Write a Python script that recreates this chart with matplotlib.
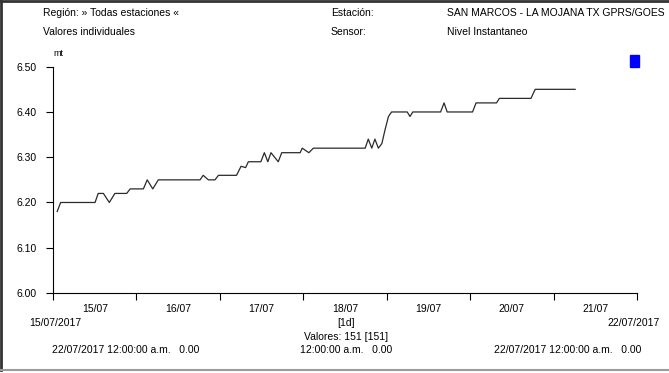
import datetime as dt
import matplotlib
matplotlib.use('Agg')
import matplotlib.pyplot as plt
import matplotlib.dates as mdates
from matplotlib.lines import Line2D
from matplotlib.patches import Rectangle

plt.rcParams['font.family'] = ['Liberation Sans', 'DejaVu Sans']

# water level readings (hours after 15/07/2017 00:00, metres)
hours = [1.2, 2.2, 12.1, 13.0, 14.5, 16.2, 17.8, 21.2, 22.2, 26.0, 27.1, 28.7, 30.3,
         42.3, 43.2, 44.7, 46.6, 47.6, 52.8, 54.1, 55.4, 56.2, 59.8, 60.8, 61.8,
         62.7, 64.8, 65.8, 71.1, 71.7, 73.6, 74.9, 89.8, 90.7, 91.7, 92.6, 93.6,
         94.6, 95.5, 96.5, 97.4, 101.9, 102.7, 103.5, 111.5, 112.5, 113.4, 120.7,
         121.7, 127.6, 128.4, 137.5, 138.7, 150.2]
levels = [6.18, 6.20, 6.20, 6.22, 6.22, 6.20, 6.22, 6.22, 6.23, 6.23, 6.25, 6.23, 6.25,
          6.25, 6.26, 6.25, 6.25, 6.26, 6.26, 6.28, 6.277, 6.29, 6.29, 6.31, 6.29,
          6.31, 6.29, 6.31, 6.31, 6.32, 6.31, 6.32, 6.32, 6.34, 6.32, 6.34, 6.32,
          6.33, 6.36, 6.39, 6.40, 6.40, 6.39, 6.40, 6.40, 6.42, 6.40, 6.40,
          6.42, 6.42, 6.43, 6.43, 6.45, 6.45]
yticks = [6.00, 6.10, 6.20, 6.30, 6.40, 6.50]

start = dt.datetime(2017, 7, 15)
end = dt.datetime(2017, 7, 22)
times = [start + dt.timedelta(hours=h) for h in hours]

W, H = 669, 373
def fx(x): return x / W
def fy(y): return 1 - y / H

fig = plt.figure(figsize=(W / 100, H / 100), dpi=100)
ax = fig.add_axes([fx(53), fy(293), (637 - 53) / W, (293 - 66.7) / H])
ax.plot(times, levels, color='#2a2a2a', lw=0.9)

ax.set_xlim(start, end)
ax.set_ylim(6.0, 6.5)
ax.set_yticks(yticks)
ax.set_yticklabels([f'{v:.2f}' for v in yticks])
ax.xaxis.set_major_locator(mdates.DayLocator())
ax.xaxis.set_major_formatter(plt.NullFormatter())
ax.xaxis.set_minor_locator(mdates.HourLocator(byhour=[12]))
ax.xaxis.set_minor_formatter(mdates.DateFormatter('%d/%m'))
ax.tick_params(axis='x', which='major', length=5, width=0.8, direction='out')
ax.tick_params(axis='x', which='minor', length=0, pad=8, labelsize=7.5)
ax.tick_params(axis='y', length=5, width=0.8, pad=7, labelsize=7.5)
for s in ['top', 'right']:
    ax.spines[s].set_visible(False)
for s in ['left', 'bottom']:
    ax.spines[s].set_linewidth(0.8)

fs = 7.5
fig.text(fx(43), fy(13), 'Región: » Todas estaciones «', fontsize=fs, va='center')
fig.text(fx(43), fy(32), 'Valores individuales', fontsize=fs, va='center')
fig.text(fx(331), fy(13), 'Estación:', fontsize=fs, va='center')
fig.text(fx(331), fy(32), 'Sensor:', fontsize=fs, va='center')
fig.text(fx(447), fy(13), 'SAN MARCOS - LA MOJANA TX GPRS/GOES', fontsize=fs, va='center')
fig.text(fx(447), fy(32), 'Nivel Instantaneo', fontsize=fs, va='center')
fig.text(fx(53), fy(53), 'mt', fontsize=6.5, va='center')
fig.add_artist(Rectangle((fx(630), fy(67)), 9 / W, 12 / H, transform=fig.transFigure,
                         color='#0000ff'))

fig.text(fx(55), fy(323), '15/07/2017', fontsize=fs, ha='center', va='center')
fig.text(fx(634), fy(323), '22/07/2017', fontsize=fs, ha='center', va='center')
fig.text(fx(346), fy(323), '[1d]', fontsize=fs, ha='center', va='center')
fig.text(fx(346), fy(337), 'Valores: 151 [151]', fontsize=fs, ha='center', va='center')
fig.text(fx(52), fy(350), '22/07/2017 12:00:00 a.m.   0.00', fontsize=fs, va='center')
fig.text(fx(346), fy(350), '12:00:00 a.m.   0.00', fontsize=fs, ha='center', va='center')
fig.text(fx(641), fy(350), '22/07/2017 12:00:00 a.m.   0.00', fontsize=fs, ha='right',
         va='center')

# window frame
fig.add_artist(Line2D([fx(1), fx(1)], [fy(1), fy(370)], color='#333333', lw=2))
fig.add_artist(Line2D([0, 1], [fy(1), fy(1)], color='#333333', lw=2))
fig.add_artist(Line2D([fx(1), 1], [fy(370), fy(370)], color='#9a9a9a', lw=1.5))

fig.savefig('out.png', dpi=100)
